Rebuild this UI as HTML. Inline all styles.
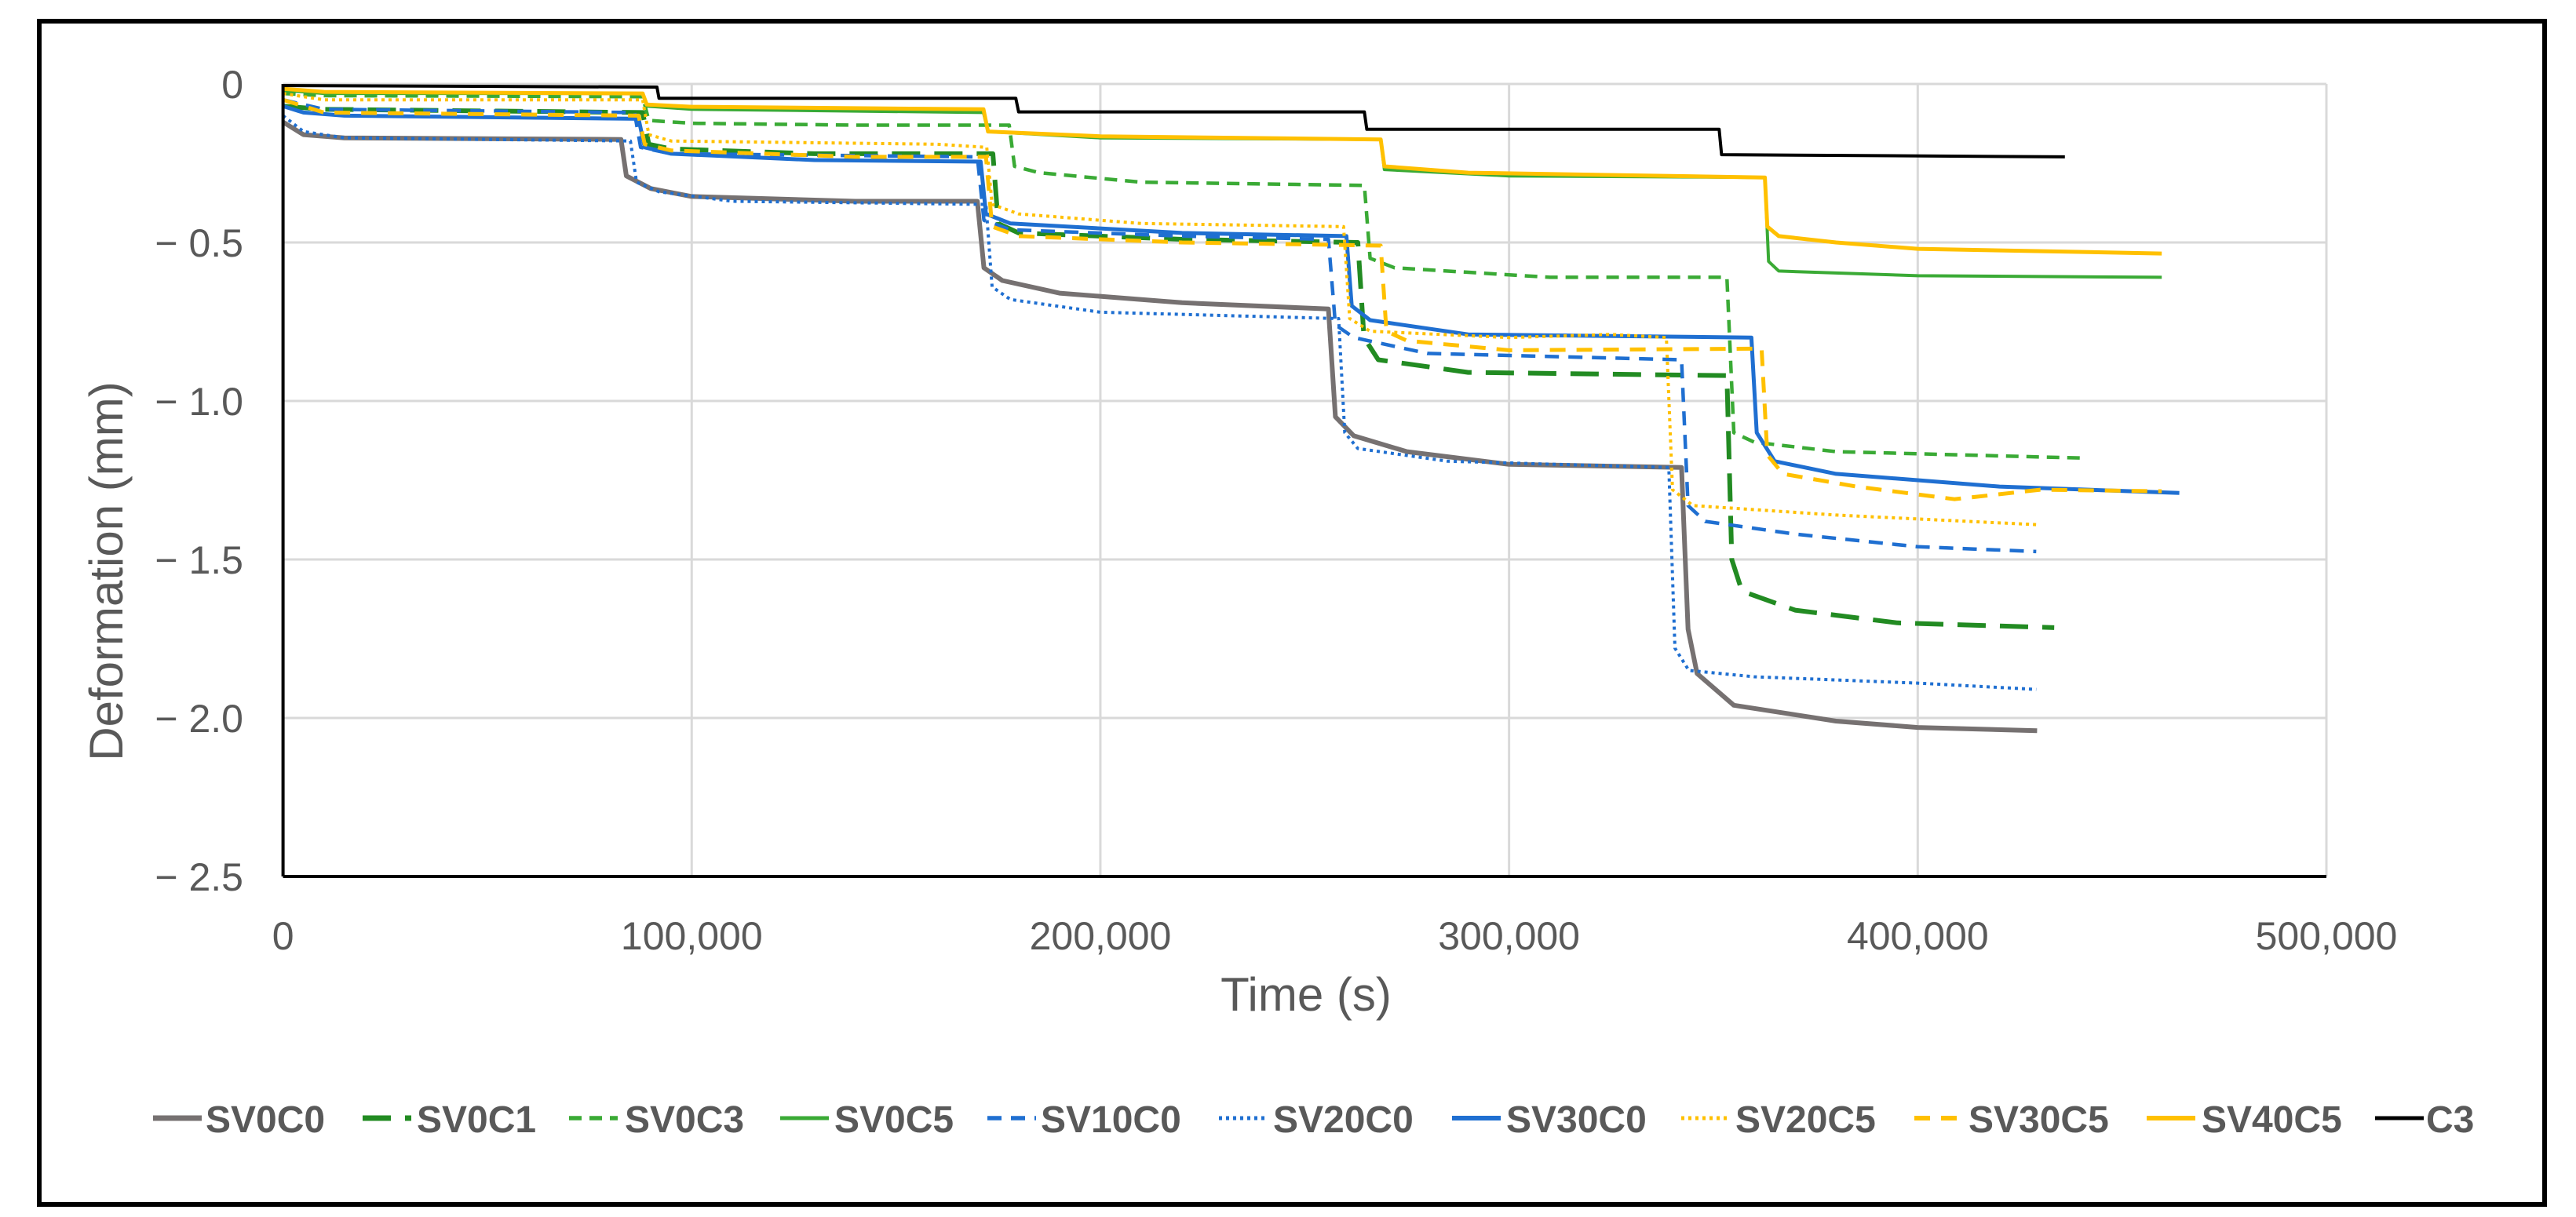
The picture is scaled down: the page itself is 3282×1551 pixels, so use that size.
<!DOCTYPE html>
<html><head><meta charset="utf-8"><style>
html,body{margin:0;padding:0;background:#fff}
svg{display:block}
text{font-family:"Liberation Sans",sans-serif}
</style></head><body>
<svg id="chart" width="3282" height="1551" viewBox="0 0 3282 1551" xmlns="http://www.w3.org/2000/svg">
<rect x="50" y="27" width="3192" height="1508" fill="#fff" stroke="#000" stroke-width="6"/>
<g id="grid"></g>
<g id="series"></g>
<g id="axes"></g>
<text x="0" y="0" transform="translate(156,728) rotate(-90)" text-anchor="middle" font-size="60" fill="#595959">Deformation (mm)</text>
<text x="1664" y="1288" text-anchor="middle" font-size="60" fill="#595959">Time (s)</text>
<g id="legend"></g>
</svg>
<script>
const xTicks=[0,100000,200000,300000,400000,500000];
const xTickLabels=["0","100,000","200,000","300,000","400,000","500,000"];
const yTicks=[0,-0.5,-1,-1.5,-2,-2.5];
const yTickLabels=["0","\u2212 0.5","\u2212 1.0","\u2212 1.5","\u2212 2.0","\u2212 2.5"];
const seriesNames=["SV0C0","SV0C1","SV0C3","SV0C5","SV10C0","SV20C0","SV30C0","SV20C5","SV30C5","SV40C5","C3"];
const SV0C0=[[0,-0.12],[5000,-0.16],[15000,-0.17],[82700,-0.175],[84000,-0.29],[90000,-0.33],[100000,-0.355],[140000,-0.37],[169900,-0.37],[171500,-0.58],[176000,-0.62],[190000,-0.66],[220000,-0.69],[255800,-0.71],[257500,-1.05],[262000,-1.11],[275000,-1.16],[300000,-1.2],[342200,-1.21],[343800,-1.72],[346000,-1.86],[355000,-1.96],[380000,-2.01],[400000,-2.03],[429200,-2.04]];
const SV0C1=[[0,-0.07],[10000,-0.08],[88000,-0.09],[89500,-0.19],[95000,-0.205],[130000,-0.22],[173700,-0.22],[175000,-0.44],[180000,-0.47],[220000,-0.49],[263000,-0.5],[264500,-0.8],[268000,-0.87],[290000,-0.91],[353300,-0.92],[354500,-1.5],[357000,-1.6],[370000,-1.66],[395000,-1.7],[433400,-1.715]];
const SV0C3=[[0,-0.03],[10000,-0.037],[88000,-0.04],[89500,-0.115],[100000,-0.124],[140000,-0.13],[177700,-0.13],[179000,-0.26],[185000,-0.28],[210000,-0.31],[264600,-0.32],[266000,-0.55],[272000,-0.58],[310000,-0.61],[353300,-0.61],[355000,-1.1],[360000,-1.13],[380000,-1.16],[439800,-1.18]];
const SV0C5=[[0,-0.02],[10000,-0.03],[88000,-0.03],[89000,-0.07],[100000,-0.08],[171400,-0.09],[172500,-0.15],[200000,-0.17],[268600,-0.175],[269500,-0.27],[300000,-0.29],[362600,-0.295],[363500,-0.56],[366000,-0.59],[400000,-0.605],[459700,-0.61]];
const SV10C0=[[0,-0.05],[10000,-0.08],[86000,-0.09],[87500,-0.2],[95000,-0.22],[169900,-0.23],[171500,-0.43],[178000,-0.46],[220000,-0.48],[255800,-0.49],[257500,-0.76],[262000,-0.8],[280000,-0.85],[342200,-0.87],[343800,-1.33],[348000,-1.38],[370000,-1.42],[400000,-1.46],[429000,-1.475]];
const SV20C0=[[0,-0.1],[5000,-0.15],[15000,-0.17],[85000,-0.18],[86500,-0.31],[92000,-0.34],[110000,-0.37],[172000,-0.38],[173500,-0.64],[178000,-0.68],[200000,-0.72],[258300,-0.74],[259800,-1.1],[263000,-1.15],[285000,-1.19],[339100,-1.21],[340600,-1.78],[344000,-1.85],[360000,-1.87],[400000,-1.89],[429000,-1.91]];
const SV30C0=[[0,-0.07],[5000,-0.09],[15000,-0.1],[87000,-0.11],[88500,-0.2],[95000,-0.22],[130000,-0.24],[170700,-0.245],[172000,-0.41],[178000,-0.44],[220000,-0.47],[260200,-0.48],[261500,-0.7],[266000,-0.745],[290000,-0.79],[359300,-0.8],[360600,-1.1],[365000,-1.19],[380000,-1.23],[420000,-1.27],[464000,-1.29]];
const SV20C5=[[0,-0.03],[10000,-0.05],[88000,-0.05],[89500,-0.16],[95000,-0.18],[160000,-0.19],[172200,-0.2],[173500,-0.38],[180000,-0.41],[210000,-0.44],[259500,-0.45],[261000,-0.74],[266000,-0.78],[300000,-0.8],[325000,-0.79],[338500,-0.8],[340000,-1.28],[345000,-1.33],[380000,-1.36],[429000,-1.39]];
const SV30C5=[[0,-0.05],[10000,-0.09],[87000,-0.1],[88500,-0.19],[95000,-0.21],[140000,-0.23],[172000,-0.23],[173500,-0.45],[180000,-0.48],[220000,-0.5],[268600,-0.51],[270000,-0.78],[275000,-0.81],[300000,-0.84],[361800,-0.835],[363200,-1.17],[367000,-1.23],[385000,-1.27],[409000,-1.31],[430000,-1.28],[459700,-1.285]];
const SV40C5=[[0,-0.015],[10000,-0.025],[88000,-0.03],[89000,-0.065],[100000,-0.072],[171400,-0.08],[172500,-0.15],[200000,-0.165],[268600,-0.175],[269500,-0.26],[290000,-0.28],[362600,-0.295],[363200,-0.45],[366000,-0.48],[380000,-0.5],[400000,-0.52],[459700,-0.535]];
const C3=[[0,-0.005],[91500,-0.01],[92000,-0.045],[179300,-0.045],[180000,-0.088],[264600,-0.088],[265200,-0.143],[351400,-0.143],[352000,-0.223],[436000,-0.23]];
const seriesData=[SV0C0,SV0C1,SV0C3,SV0C5,SV10C0,SV20C0,SV30C0,SV20C5,SV30C5,SV40C5,C3];
const colors=["#767171","#228B22","#3AAA35","#3AAA35","#1F6FD1","#1F6FD1","#1F6FD1","#FFC000","#FFC000","#FFC000","#000000"];
const dashes=["","36 18","16 10","","18 12","4 5","","4 5","20 14","",""];
const widths=[6,6,4.5,4,4.5,4,5,4,5,5,4];

const NS="http://www.w3.org/2000/svg";
const X0=360.6,X1=2964,Y0=107,Y1=1117;
function sx(v){return X0+(v-0)/500000*(X1-X0);}
function sy(v){return Y0+(0-v)/2.5*(Y1-Y0);}
function mk(tag,attrs,parent){const e=document.createElementNS(NS,tag);for(const k in attrs)e.setAttribute(k,attrs[k]);parent.appendChild(e);return e;}

const grid=document.getElementById('grid');
xTicks.forEach((t,i)=>{if(i>0){const l=mk('line',{x1:sx(t),x2:sx(t),y1:Y0,y2:Y1,stroke:'#D9D9D9','stroke-width':3},grid);

}
const tx=mk('text',{x:sx(t),y:1210,'text-anchor':'middle','font-size':50,fill:'#595959'},grid);tx.textContent=xTickLabels[i];

});
yTicks.forEach((t,i)=>{if(i<yTicks.length-1){const l=mk('line',{x1:X0,x2:X1,y1:sy(t),y2:sy(t),stroke:'#D9D9D9','stroke-width':3},grid);

}
const tx=mk('text',{x:310,y:sy(t)+18,'text-anchor':'end','font-size':50,fill:'#595959'},grid);tx.textContent=yTickLabels[i];

});

const sg=document.getElementById('series');
seriesData.forEach((d,i)=>{const p=d.map(q=>sx(q[0]).toFixed(1)+','+sy(q[1]).toFixed(1)).join(' ');
const a={points:p,fill:'none',stroke:colors[i],'stroke-width':widths[i],'stroke-linejoin':'round'};if(dashes[i])a['stroke-dasharray']=dashes[i];
const pl=mk('polyline',a,sg);

});

const ax=document.getElementById('axes');
const xa=mk('line',{x1:X0,x2:X1,y1:Y1,y2:Y1,stroke:'#000','stroke-width':4},ax);


const ya=mk('line',{x1:X0,x2:X0,y1:Y0,y2:Y1,stroke:'#000','stroke-width':4},ax);



const lg=document.getElementById('legend');
const lgLine=[195,462,725,994,1258,1553,1850,2142,2439,2735,3026];
const lgText=[262,531,796,1063,1326,1622,1919,2211,2508,2805,3091];
seriesNames.forEach((n,i)=>{const g=mk('g',{},lg);


const a={x1:lgLine[i],x2:lgLine[i]+62,y1:1425,y2:1425,stroke:colors[i],'stroke-width':widths[i]+1};if(dashes[i])a['stroke-dasharray']=dashes[i];
mk('line',a,g);
const t=mk('text',{x:lgText[i],y:1443,'font-size':48,'font-weight':'bold',fill:'#595959'},g);t.textContent=n;});
</script>
</body></html>
